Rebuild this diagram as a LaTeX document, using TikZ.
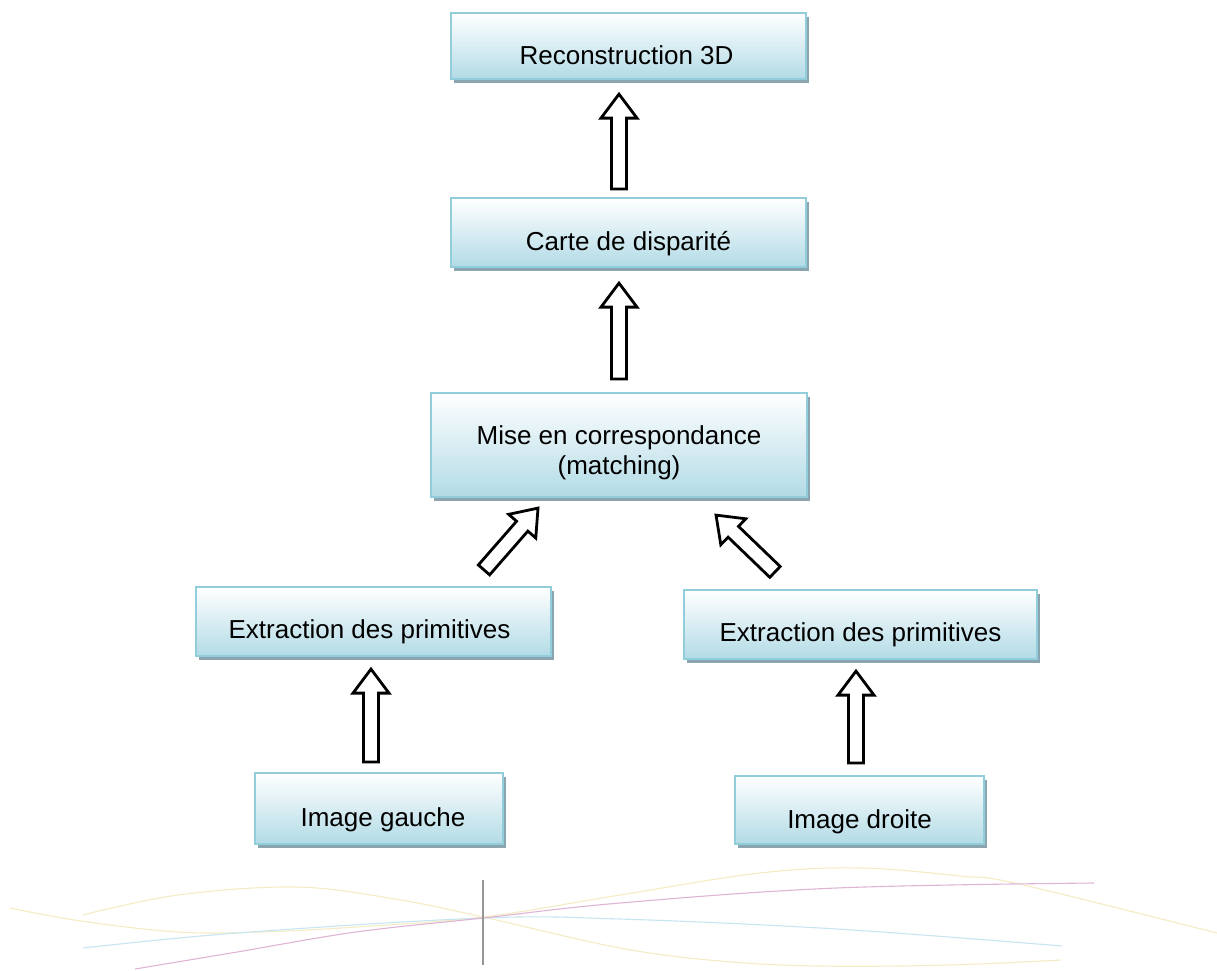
\documentclass[tikz,border=0pt]{standalone}
\usepackage{fontspec}
\setmainfont{Liberation Sans}
\usetikzlibrary{calc,shadows}
\definecolor{boxbot}{RGB}{178,219,230}
\definecolor{boxborder}{RGB}{146,205,220}
\definecolor{boxshadow}{RGB}{138,165,176}
\definecolor{cylw}{RGB}{244,236,196}
\definecolor{cpur}{RGB}{224,180,212}
\definecolor{cblu}{RGB}{200,230,241}
\definecolor{cgry}{RGB}{150,150,150}
\newcommand\blkarrow[2]{%
  \coordinate (ba-h) at ($(#2)!24pt!(#1)$);
  \draw[blockarr] ($(#1)!7.5pt!90:(#2)$) -- ($(ba-h)!7.5pt!-90:(#1)$) -- ($(ba-h)!18pt!-90:(#1)$) -- (#2) -- ($(ba-h)!18pt!90:(#1)$) -- ($(ba-h)!7.5pt!90:(#1)$) -- ($(#1)!7.5pt!-90:(#2)$) -- cycle;
}
\tikzset{
  box/.style={rectangle, draw=boxborder, line width=2.2pt, top color=white, bottom color=boxbot,
    inner sep=0pt, general shadow={fill=boxshadow, shadow xshift=3pt, shadow yshift=-3.5pt}},
  lbl/.style={font=\fontsize{26}{30}\selectfont, inner sep=0pt, anchor=base, align=center},
  blockarr/.style={draw=black, fill=white, line width=2.8pt, line join=miter},
  deco/.style={line width=1.1pt},
}
\begin{document}
\begin{tikzpicture}[x=1pt,y=-1pt]
\useasboundingbox[fill=white] (0,0) rectangle (1217,970);
% decorative curves
\draw[deco, cylw] plot[smooth, tension=0.6] coordinates {(10,908) (81,921) (178,932) (260,932) (356,927) (483,917) (620,895) (760,873) (860,868) (960,876) (1019,884) (1217,933)};
\draw[deco, cylw] plot[smooth, tension=0.6] coordinates {(83,915) (178,895) (296,887) (395,899) (483,917) (620,948) (720,961) (820,966) (950,965) (1061,960)};
\draw[deco, cblu] plot[smooth, tension=0.6] coordinates {(83,948) (237,933) (483,918) (620,919) (837,929) (1062,946)};
\draw[deco, cpur] plot[smooth, tension=0.6] coordinates {(135,969) (237,952) (356,932) (483,918) (620,903) (836,888) (1094,883)};
\draw[line width=1.1pt, cgry] (483,880) -- (483,965);
% boxes
\node[box, minimum width=355pt, minimum height=66pt] (rec) at (628.5,46) {};
\node[box, minimum width=355pt, minimum height=69pt] (carte) at (628.5,232.5) {};
\node[box, minimum width=376pt, minimum height=104pt] (mise) at (619,445) {};
\node[box, minimum width=355pt, minimum height=69pt] (exl) at (373.5,621.5) {};
\node[box, minimum width=353pt, minimum height=69pt] (exr) at (860.5,624.5) {};
\node[box, minimum width=248pt, minimum height=71pt] (igl) at (379,808.5) {};
\node[box, minimum width=249pt, minimum height=68pt] (igd) at (859.5,810) {};
% labels
\node[lbl] (rec-t) at ($(rec.center)+(-2,18)$) {Reconstruction 3D};
\node[lbl] (carte-t) at ($(carte.center)+(0,17.5)$) {Carte de disparité};
\node[lbl, anchor=center] (mise-t) at ($(mise.center)+(0,8)$) {Mise en correspondance\\(matching)};
\node[lbl] (exl-t) at ($(exl.center)+(-4,16.5)$) {Extraction des primitives};
\node[lbl] (exr-t) at ($(exr.center)+(0,17)$) {Extraction des primitives};
\node[lbl] (igl-t) at ($(igl.center)+(4,18)$) {Image gauche};
\node[lbl] (igd-t) at ($(igd.center)+(0,18)$) {Image droite};
% arrow end points
\coordinate (a1s) at ($(carte.north)+(-9.5,-8)$);
\coordinate (a1e) at ($(rec.south)+(-9.5,14)$);
\coordinate (a2s) at ($(mise.north)+(0,-13)$);
\coordinate (a2e) at ($(carte.south)+(-9.5,15)$);
\coordinate (a3s) at ($(exl.north)+(110.5,-16)$);
\coordinate (a3e) at ($(mise.south)+(-81,10)$);
\coordinate (a4s) at ($(exr.north)+(-85.5,-17)$);
\coordinate (a4e) at ($(mise.south)+(97,17)$);
\coordinate (a5s) at ($(igl.north)+(-8,-10)$);
\coordinate (a5e) at ($(exl.south)+(-2.5,12)$);
\coordinate (a6s) at ($(igd.north)+(-3.5,-12)$);
\coordinate (a6e) at ($(exr.south)+(-4.5,11)$);
\blkarrow{a1s}{a1e}
\blkarrow{a2s}{a2e}
\blkarrow{a3s}{a3e}
\blkarrow{a4s}{a4e}
\blkarrow{a5s}{a5e}
\blkarrow{a6s}{a6e}
\end{tikzpicture}
\end{document}
